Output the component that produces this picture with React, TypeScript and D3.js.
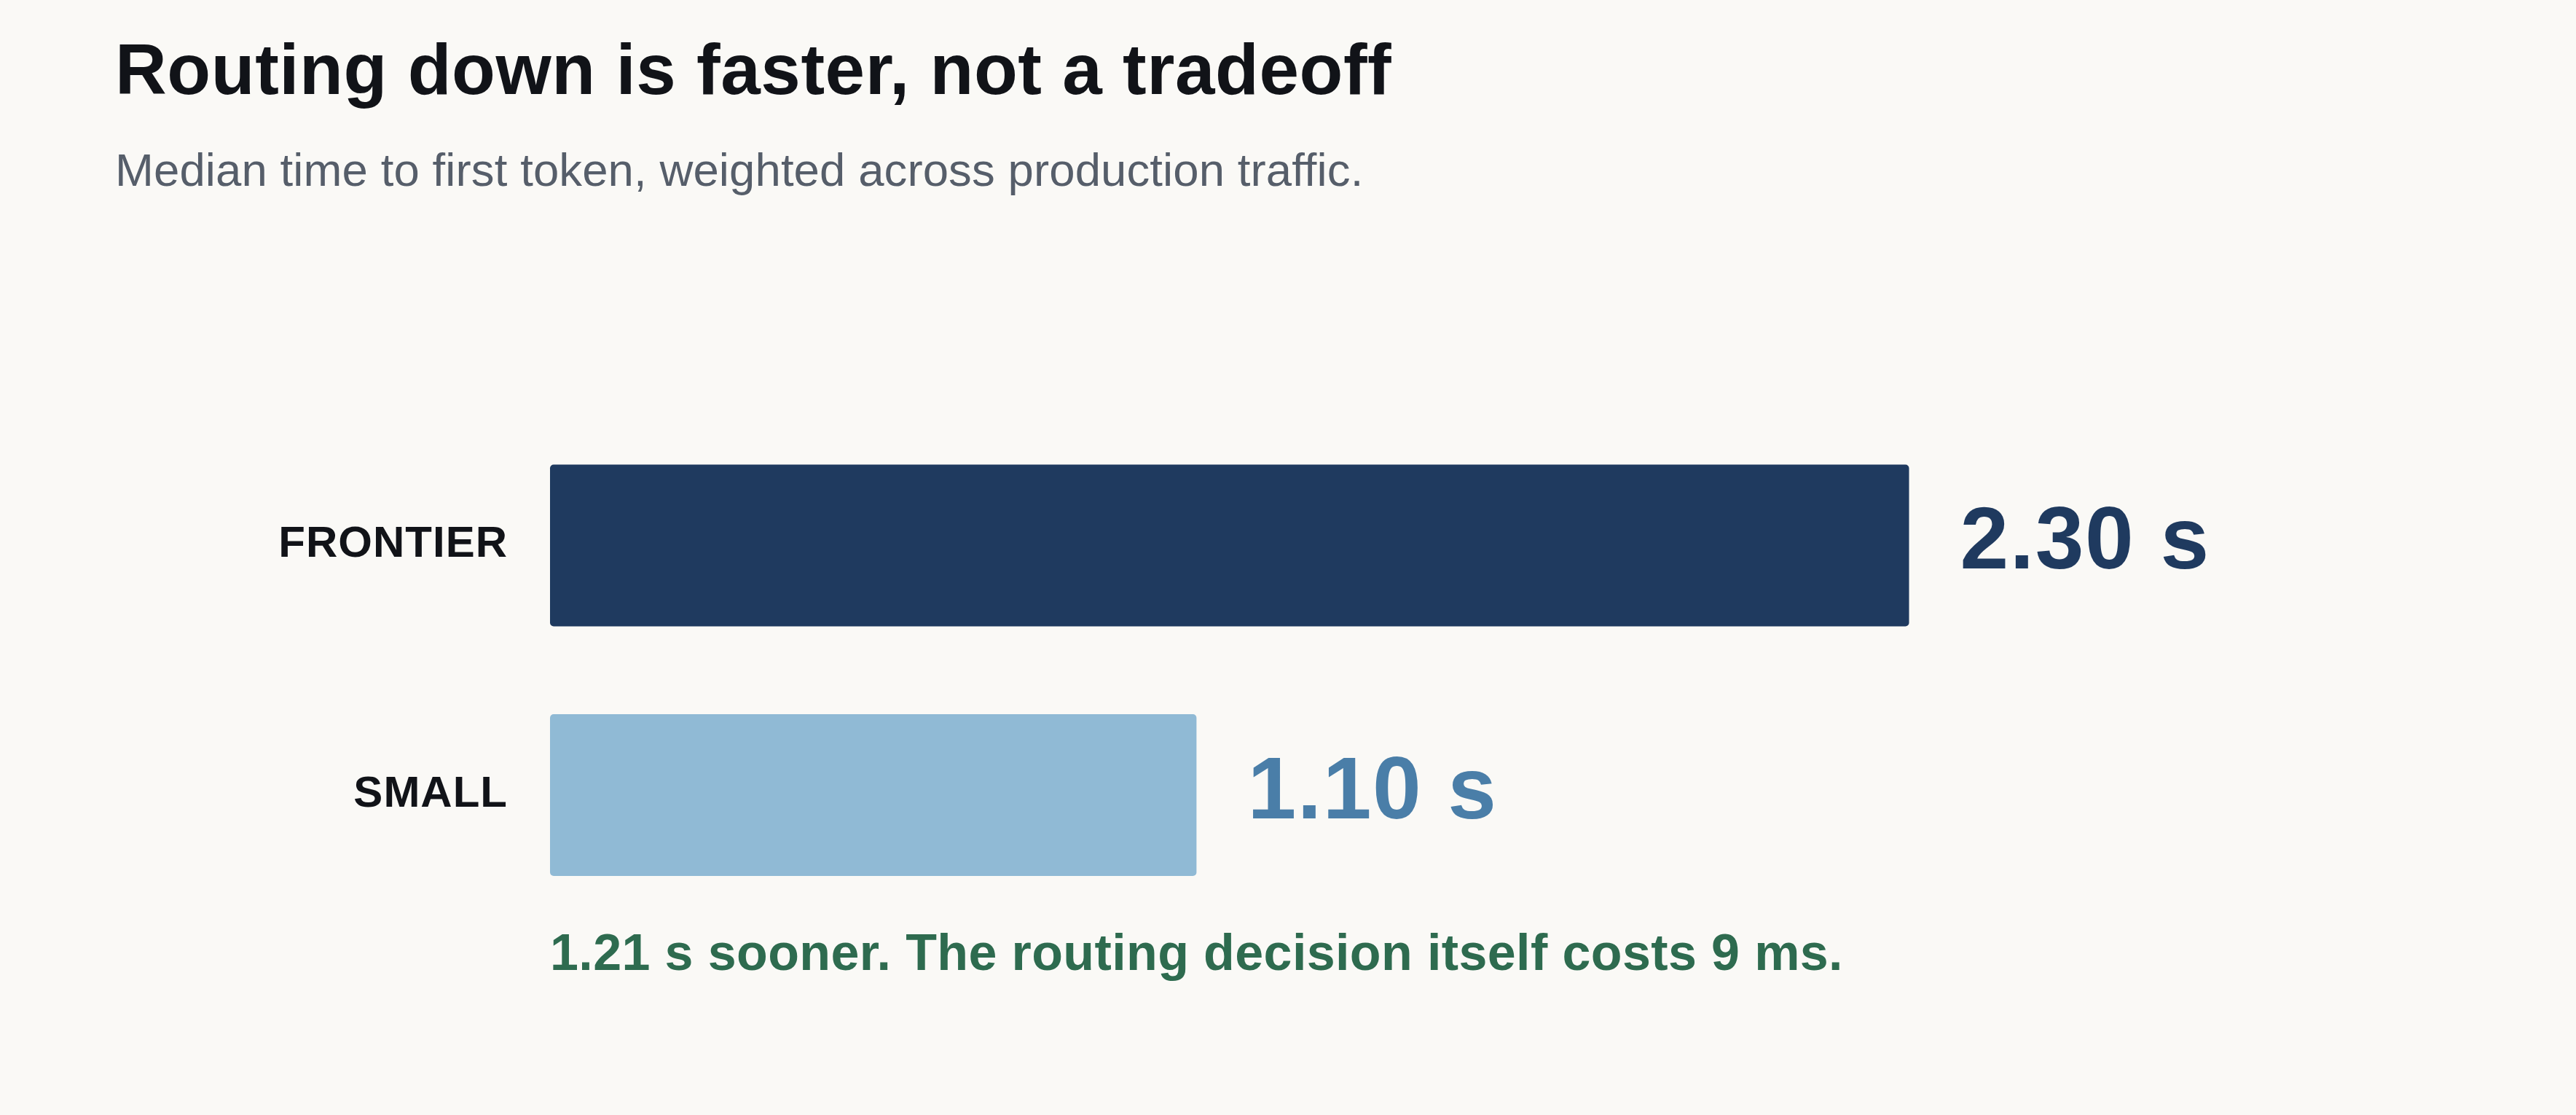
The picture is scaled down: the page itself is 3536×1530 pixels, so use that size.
//@ts-nocheck
import * as d3 from "d3";
import { useEffect, useRef } from "react";

// data
const categories = ["FRONTIER", "SMALL"];
const ttftSeconds = [2.304, 1.096];
const routingCostMs = 9;

const barColors = ["#1f3a5f", "#90bad5"];
const valueColors = ["#1f3a5f", "#4a7ea8"];

const title = "Routing down is faster, not a tradeoff";
const subtitle = "Median time to first token, weighted across production traffic.";

const WIDTH = 3536;
const HEIGHT = 1530;
const FONT = "'Liberation Sans', Arial, Helvetica, sans-serif";

const App = () => {
  const chartRef = useRef(null);

  useEffect(() => {
    chartRef.current.innerHTML = "";
    drawChart(chartRef.current);
  }, []);

  return (
    <svg
      ref={chartRef}
      width={WIDTH}
      height={HEIGHT}
      style={{ position: "absolute", left: 0, top: 0, display: "block" }}
    ></svg>
  );
};

const drawChart = (ref: any) => {
  const svg = d3.select(ref).attr("font-family", FONT);

  svg.append("rect")
    .attr("width", WIDTH)
    .attr("height", HEIGHT)
    .attr("fill", "#faf9f6");

  // header
  svg.append("text")
    .attr("x", 158)
    .attr("y", 129)
    .attr("font-size", 98)
    .attr("font-weight", 700)
    .attr("letter-spacing", 0.55)
    .attr("fill", "#111318")
    .text(title);

  svg.append("text")
    .attr("x", 158)
    .attr("y", 255)
    .attr("font-size", 63.5)
    .attr("letter-spacing", 0.1)
    .attr("fill", "#565e6a")
    .text(subtitle);

  // scales
  const x = d3.scaleLinear()
    .domain([0, d3.max(ttftSeconds)])
    .range([755, 2620.5]);

  const y = d3.scaleBand()
    .domain(categories)
    .range([637.5, 1202])
    .paddingInner(0.352)
    .paddingOuter(0);

  const rows = categories.map((c, i) => ({ name: c, value: ttftSeconds[i], i }));

  // bars
  svg.selectAll("rect.bar")
    .data(rows)
    .enter()
    .append("rect")
    .attr("class", "bar")
    .attr("x", x(0))
    .attr("y", d => y(d.name))
    .attr("width", d => x(d.value) - x(0))
    .attr("height", y.bandwidth())
    .attr("rx", 5)
    .attr("fill", d => barColors[d.i]);

  // category labels
  svg.selectAll("text.cat")
    .data(rows)
    .enter()
    .append("text")
    .attr("class", "cat")
    .attr("x", x(0) - 58)
    .attr("y", d => y(d.name) + y.bandwidth() / 2)
    .attr("dominant-baseline", "middle")
    .attr("text-anchor", "end")
    .attr("font-size", 60)
    .attr("font-weight", 700)
    .attr("letter-spacing", 1)
    .attr("fill", "#111318")
    .text(d => d.name);

  // value labels
  svg.selectAll("text.val")
    .data(rows)
    .enter()
    .append("text")
    .attr("class", "val")
    .attr("x", d => x(d.value) + 70)
    .attr("y", d => y(d.name) + y.bandwidth() / 2)
    .attr("dominant-baseline", "middle")
    .attr("font-size", 120)
    .attr("font-weight", 700)
    .attr("letter-spacing", 1.6)
    .attr("fill", d => valueColors[d.i])
    .text(d => d.value.toFixed(2) + " s");

  // takeaway line
  const saved = ttftSeconds[0] - ttftSeconds[1];
  svg.append("text")
    .attr("x", x(0))
    .attr("y", 1331)
    .attr("font-size", 70)
    .attr("font-weight", 700)
    .attr("letter-spacing", 0.38)
    .attr("fill", "#2e6b4f")
    .text(`${saved.toFixed(2)} s sooner. The routing decision itself costs ${routingCostMs} ms.`);
};

export default App;
